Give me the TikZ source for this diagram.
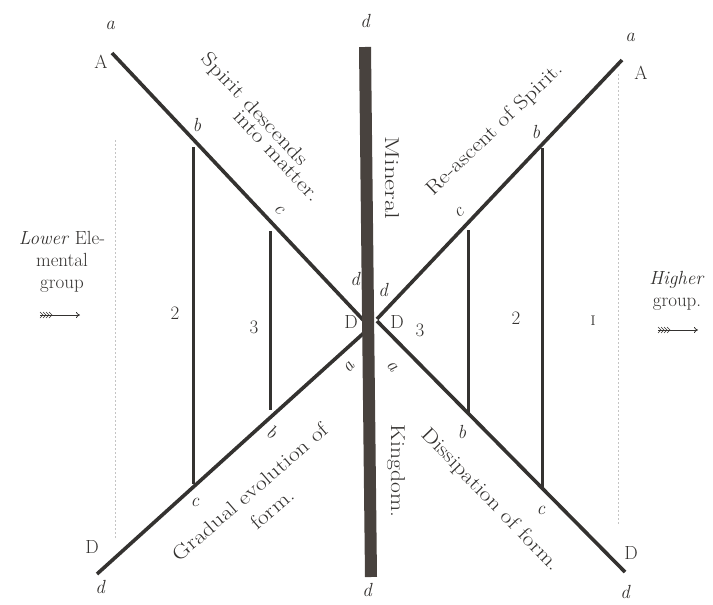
\documentclass[tikz,border=0pt]{standalone}
\usepackage{fontspec}
\usepackage{graphicx}
\usetikzlibrary{arrows.meta}

\definecolor{ink}{RGB}{52,50,48}
\definecolor{barink}{RGB}{72,66,62}
\definecolor{dots}{RGB}{196,196,196}

% old wide type: stretch a line sideways
\newcommand{\stretched}[2][1.2]{\scalebox{#1}[1]{#2}}

\begin{document}
\begin{tikzpicture}[
    x=1pt, y=-1pt,
    font=\fontsize{19}{22}\selectfont,
    every node/.style={text=ink, inner sep=0pt},
    mainline/.style={draw=ink, line width=3.6pt},
    rung/.style={draw=ink, line width=3pt},
    guide/.style={draw=dots, line width=0.9pt, dash pattern=on 1.5pt off 2.5pt},
    bar/.style={draw=barink, line width=12pt},
    letter/.style={font=\fontsize{19}{22}\selectfont\itshape},
    slant/.style={font=\fontsize{20}{22}\selectfont},
    arr/.style={draw=ink, line width=0.8pt, -{To[length=4pt,width=6pt]}},
    feather/.style={draw=ink, line width=0.6pt}
  ]
  \useasboundingbox (0,0) rectangle (713,605);

  % ends of the four arms
  \coordinate (ulA) at (112,53);
  \coordinate (ulD) at (366,323);
  \coordinate (llD) at (97,574);
  \coordinate (llA) at (366,331);
  \coordinate (urA) at (622,60);
  \coordinate (urD) at (377,319);
  \coordinate (lrA) at (377,321);
  \coordinate (lrD) at (625,572);

  % feet of the rungs
  \coordinate (lb) at (193,147);
  \coordinate (lc) at (193,484);
  \coordinate (lci) at (270,231);
  \coordinate (lbi) at (270,410);
  \coordinate (rb) at (542,148);
  \coordinate (rc) at (542,488);
  \coordinate (rci) at (468,230);
  \coordinate (rbi) at (468,413);

  % dotted group limits
  \coordinate (lgtop) at (115,140);
  \coordinate (lgbot) at (115,538);
  \coordinate (rgtop) at (618,74);
  \coordinate (rgbot) at (618,524);
  \draw[guide] (lgtop) -- (lgbot);
  \draw[guide] (rgtop) -- (rgbot);

  \draw[rung] (lb) -- (lc);
  \draw[rung] (lci) -- (lbi);
  \draw[rung] (rb) -- (rc);
  \draw[rung] (rci) -- (rbi);

  \draw[mainline] (ulA) -- (ulD);
  \draw[mainline] (llD) -- (llA);
  \draw[mainline] (urA) -- (urD);
  \draw[mainline] (lrA) -- (lrD);

  % mineral kingdom bar
  \coordinate (bartop) at (365,47);
  \coordinate (barbot) at (371,577);
  \draw[bar] (bartop) -- (barbot);

  % letters at the ends
  \node[letter] (ltopa) at (110,25) {a};
  \node (ltopA) at (101,62) {A};
  \node[letter] (ctopd) at (365,21) {d};
  \node[letter] (rtopa) at (630,37) {a};
  \node (rtopA) at (641,73) {A};
  \node (lbotD) at (92,547) {D};
  \node[letter] (lbotd) at (100,587) {d};
  \node[letter] (cbotd) at (367,590) {d};
  \node (rbotD) at (631,553) {D};
  \node[letter] (rbotd) at (625,592) {d};

  % letters along the arms
  \node[letter] (lbl1) at (197,125) {b};
  \node[letter, rotate=-45] (lcl1) at (279,210) {c};
  \node[letter] (ldl) at (355,279) {d};
  \node (lDl) at (351,322) {D};
  \node[letter, rotate=50] (lal) at (349,367) {a};
  \node[letter, rotate=-30] (lbl2) at (272,432) {b};
  \node[letter] (lcl2) at (195,502) {c};
  \node[letter] (rdl) at (383,290) {d};
  \node (rDl) at (397,322) {D};
  \node[letter, rotate=-50] (ral) at (392,367) {a};
  \node[letter, rotate=35] (rcl1) at (459,213) {c};
  \node[letter] (rbl1) at (536,132) {b};
  \node[letter] (rbl2) at (462,432) {b};
  \node[letter] (rcl2) at (541,510) {c};

  % numbers of the fields
  \node (ltwo) at (175,313) {2};
  \node (lthree) at (254,327) {3};
  \node (rthree) at (420,330) {3};
  \node (rtwo) at (516,318) {2};
  \node[font=\fontsize{14}{16}\selectfont] (rone) at (593,321) {I};

  % inscriptions
  \node[slant, rotate=-47] (descend1) at (254,110) {\stretched[1.22]{Spirit descends}};
  \node[slant, rotate=-47] (descend2) at (277,156) {\stretched[1.22]{into matter.}};
  \node[slant, rotate=44] (ascent) at (495,130) {\stretched[1.18]{Re-ascent of Spirit.}};
  \node[slant, rotate=-90] (mineral) at (392,178) {\stretched[1.35]{Mineral}};
  \node[slant, rotate=-90] (kingdom) at (396,471) {\stretched[1.18]{Kingdom.}};
  \node[slant, rotate=41] (grad1) at (250,492) {\stretched{Gradual evolution of}};
  \node[slant, rotate=41] (grad2) at (272,509) {\stretched{form.}};
  \node[slant, rotate=-46] (dissip) at (490,500) {\stretched{Dissipation of form.}};

  % the two groups
  \node[align=center] (lowgrp) at (62,262) {\textit{Lower} Ele-\\mental\\group};
  \node[align=center] (highgrp) at (677,291) {\textit{Higher}\\group.};

  \coordinate (lowtail) at (40,315);
  \coordinate (lowhead) at (80,315);
  \draw[arr] (lowtail) -- (lowhead);
  \foreach \k in {0,3,6,9}
    \draw[feather] ([xshift=\k pt]lowtail) ++(0,-3) -- ++(3,3) -- ++(-3,3);

  \coordinate (hightail) at (658,330);
  \coordinate (highhead) at (698,330);
  \draw[arr] (hightail) -- (highhead);
  \foreach \k in {0,3,6,9}
    \draw[feather] ([xshift=\k pt]hightail) ++(0,-3) -- ++(3,3) -- ++(-3,3);
\end{tikzpicture}
\end{document}
